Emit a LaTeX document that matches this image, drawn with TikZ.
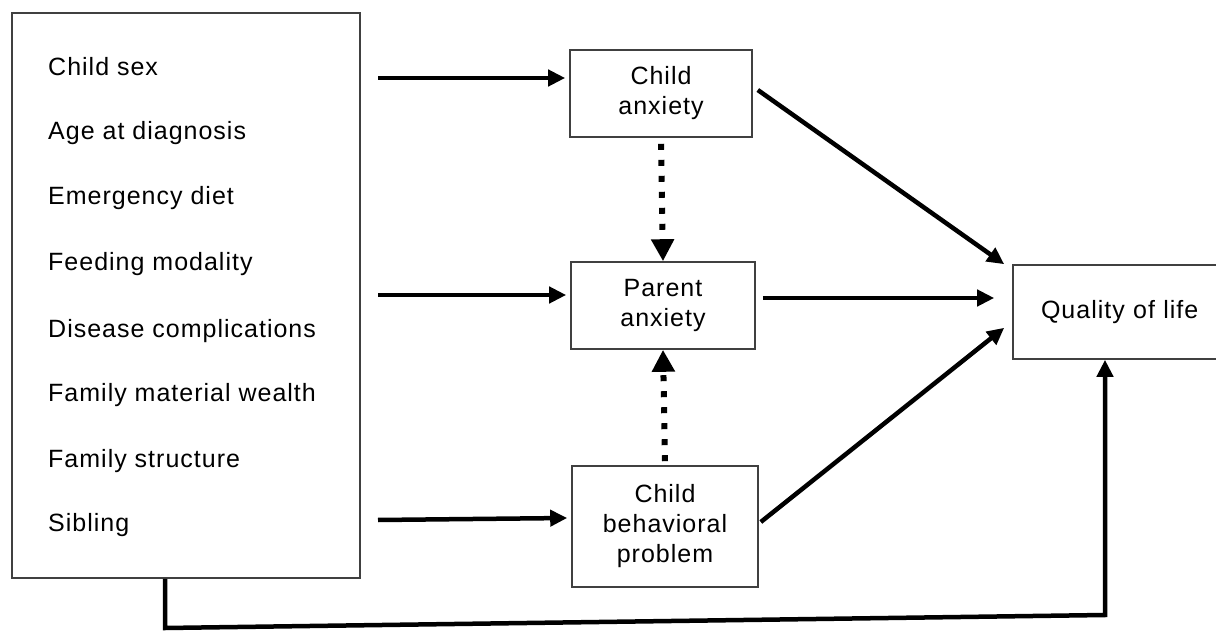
\documentclass[tikz,border=0pt]{standalone}
\usepackage{fontspec}
\setmainfont{Liberation Sans}[LetterSpace=4]
\usetikzlibrary{arrows.meta,calc}
\begin{document}
\begin{tikzpicture}[x=1pt,y=-1pt,
  box/.style={draw=black!75,line width=1.6pt,fill=white,align=center,inner sep=0pt},
  lbl/.style={anchor=base west,inner sep=0pt},
  arr/.style={line width=4.5pt,-{Triangle[length=17pt,width=16pt]}},
  dotarr/.style={line width=6pt,dash pattern=on 6pt off 10pt,-{Triangle[length=22pt,width=22pt]}},
  font=\fontsize{25}{30}\selectfont]
\useasboundingbox (0,0) rectangle (1216,631);
% left box
\node[box,minimum width=348pt,minimum height=565pt] (lb) at (186,295.5) {};
\node[lbl] (t1) at (48,76) {Child sex};
\node[lbl] (t2) at (48,140) {Age at diagnosis};
\node[lbl] (t3) at (48,205) {Emergency diet};
\node[lbl] (t4) at (48,271) {Feeding modality};
\node[lbl] (t5) at (48,337) {Disease complications};
\node[lbl] (t6) at (48,401) {Family material wealth};
\node[lbl] (t7) at (48,467) {Family structure};
\node[lbl] (t8) at (48,531) {Sibling};
% middle boxes
\node[box,minimum width=182pt,minimum height=87pt] (ca) at (661,93.5) {Child\\anxiety};
\node[box,minimum width=184pt,minimum height=87pt] (pa) at (663,305.5) {Parent\\anxiety};
\node[box,minimum width=186pt,minimum height=121pt] (bp) at (665,526.5) {Child\\behavioral\\problem};
\node[box,minimum width=215pt,minimum height=94pt,text width=205pt,align=left] (qol) at (1120.5,312) {\hspace*{23pt}Quality of life};
% free ends
\coordinate (s1) at (378,78);
\coordinate (s2) at (378,295);
\coordinate (s3) at (378,520);
\coordinate (c1) at (165,628);
\coordinate (c2) at (1105,615);
% arrows from covariates
\draw[arr] (s1) -- ([xshift=-4pt,yshift=15.5pt]ca.west);
\draw[arr] (s2) -- ([xshift=-4pt,yshift=10.5pt]pa.west);
\draw[arr] (s3) -- ([xshift=-4pt,yshift=8.5pt]bp.west);
% dotted
\draw[dotarr] ([yshift=-6pt]ca.south) -- (pa.north);
\draw[dotarr] ([yshift=4pt]bp.north) -- (pa.south);
% to QoL
\draw[arr] ([xshift=5pt,yshift=3.5pt]ca.east) -- ([xshift=-8pt]qol.north west);
\draw[arr] ([xshift=7pt,yshift=7.5pt]pa.east) -- ([xshift=-18pt,yshift=14pt]qol.west);
\draw[arr] ([xshift=2pt,yshift=4.5pt]bp.east) -- ([xshift=-8pt,yshift=32pt]qol.south west);
% bottom path
\draw[line width=4.5pt,-{Triangle[length=17pt,width=16pt]}] (lb.south -| c1) -- (c1) -- (c2) -- (qol.south -| c2);
\end{tikzpicture}
\end{document}
